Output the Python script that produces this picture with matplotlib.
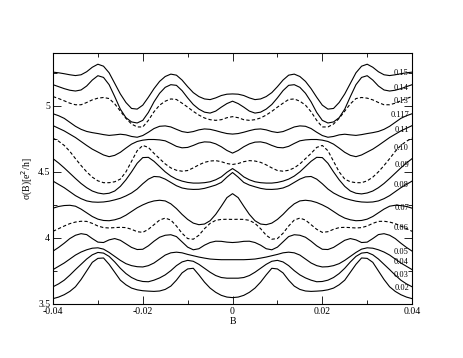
import matplotlib
matplotlib.use("Agg")
import numpy as np
import matplotlib.pyplot as plt
from matplotlib.ticker import MultipleLocator

plt.rcParams["font.family"] = ["Liberation Serif", "DejaVu Serif"]

# magnetic field samples, -0.04 .. 0.04 every 0.00125
b = np.linspace(-0.04, 0.04, 65)

# sigma(B), left half then right half
s_015 = [5.255, 5.25, 5.243, 5.235, 5.229, 5.235, 5.258, 5.292, 5.315, 5.30, 5.25, 5.17, 5.09, 5.025, 4.98, 4.975, 5.005,
         5.065, 5.13, 5.185, 5.222, 5.24, 5.232, 5.195, 5.145, 5.10, 5.07, 5.052, 5.047, 5.06, 5.078, 5.088, 5.09,
         5.088, 5.078, 5.06, 5.047, 5.052, 5.07, 5.10, 5.145, 5.195, 5.232, 5.24, 5.222, 5.185, 5.13, 5.065, 5.005,
         4.975, 4.98, 5.025, 5.09, 5.17, 5.25, 5.30, 5.315, 5.292, 5.258, 5.235, 5.229, 5.235, 5.243, 5.25, 5.255]
s_014 = [5.16, 5.145, 5.13, 5.118, 5.112, 5.12, 5.15, 5.195, 5.228, 5.215, 5.16, 5.07, 4.975, 4.91, 4.878, 4.87, 4.89,
         4.95, 5.03, 5.095, 5.14, 5.16, 5.155, 5.115, 5.06, 5.01, 4.975, 4.952, 4.945, 4.96, 4.99, 5.017, 5.035,
         5.017, 4.99, 4.96, 4.945, 4.952, 4.975, 5.01, 5.06, 5.115, 5.155, 5.16, 5.14, 5.095, 5.03, 4.95, 4.89,
         4.87, 4.878, 4.91, 4.975, 5.07, 5.16, 5.215, 5.228, 5.195, 5.15, 5.12, 5.112, 5.118, 5.13, 5.145, 5.16]
s_013 = [5.07, 5.055, 5.038, 5.02, 5.008, 5.008, 5.025, 5.045, 5.058, 5.063, 5.055, 5.015, 4.96, 4.905, 4.862, 4.84, 4.84,
         4.89, 4.955, 5.005, 5.035, 5.052, 5.048, 5.02, 4.99, 4.958, 4.93, 4.908, 4.895, 4.89, 4.895, 4.91, 4.918,
         4.91, 4.895, 4.89, 4.895, 4.908, 4.93, 4.958, 4.99, 5.02, 5.048, 5.052, 5.035, 5.005, 4.955, 4.89, 4.84,
         4.84, 4.862, 4.905, 4.96, 5.015, 5.055, 5.063, 5.058, 5.045, 5.025, 5.008, 5.008, 5.02, 5.038, 5.055, 5.07]
s_0117 = [4.94, 4.925, 4.905, 4.875, 4.845, 4.822, 4.806, 4.797, 4.79, 4.782, 4.776, 4.78, 4.785, 4.78, 4.768, 4.762, 4.775,
          4.80, 4.828, 4.845, 4.848, 4.84, 4.822, 4.805, 4.798, 4.805, 4.818, 4.825, 4.822, 4.812, 4.80, 4.79, 4.786,
          4.79, 4.80, 4.812, 4.822, 4.825, 4.818, 4.805, 4.798, 4.805, 4.822, 4.84, 4.848, 4.845, 4.828, 4.80, 4.775,
          4.762, 4.768, 4.78, 4.785, 4.78, 4.776, 4.782, 4.79, 4.797, 4.806, 4.822, 4.845, 4.875, 4.905, 4.925, 4.94]
s_011 = [4.85, 4.83, 4.81, 4.785, 4.76, 4.73, 4.70, 4.672, 4.65, 4.628, 4.615, 4.625, 4.648, 4.68, 4.71, 4.73, 4.74,
         4.745, 4.745, 4.742, 4.735, 4.715, 4.693, 4.682, 4.685, 4.70, 4.718, 4.727, 4.725, 4.712, 4.69, 4.662, 4.642,
         4.662, 4.69, 4.712, 4.725, 4.727, 4.718, 4.70, 4.685, 4.682, 4.693, 4.715, 4.735, 4.742, 4.745, 4.745, 4.74,
         4.73, 4.71, 4.68, 4.648, 4.625, 4.615, 4.628, 4.65, 4.672, 4.70, 4.73, 4.76, 4.785, 4.81, 4.83, 4.85]
s_010 = [4.755, 4.732, 4.70, 4.655, 4.60, 4.548, 4.50, 4.46, 4.432, 4.418, 4.418, 4.425, 4.445, 4.50, 4.58, 4.66, 4.70,
         4.685, 4.64, 4.60, 4.56, 4.53, 4.512, 4.505, 4.51, 4.53, 4.553, 4.572, 4.582, 4.585, 4.577, 4.563, 4.556,
         4.563, 4.577, 4.585, 4.582, 4.572, 4.553, 4.53, 4.51, 4.505, 4.512, 4.53, 4.56, 4.60, 4.64, 4.685, 4.70,
         4.66, 4.58, 4.50, 4.445, 4.425, 4.418, 4.418, 4.432, 4.46, 4.50, 4.548, 4.60, 4.655, 4.70, 4.732, 4.755]
s_009 = [4.60, 4.567, 4.53, 4.49, 4.45, 4.412, 4.38, 4.355, 4.34, 4.333, 4.338, 4.355, 4.39, 4.44, 4.50, 4.565, 4.608,
         4.61, 4.58, 4.54, 4.50, 4.468, 4.445, 4.43, 4.42, 4.415, 4.415, 4.418, 4.425, 4.44, 4.462, 4.497, 4.525,
         4.497, 4.462, 4.44, 4.425, 4.418, 4.415, 4.415, 4.42, 4.43, 4.445, 4.468, 4.50, 4.54, 4.58, 4.61, 4.608,
         4.565, 4.50, 4.44, 4.39, 4.355, 4.338, 4.333, 4.34, 4.355, 4.38, 4.412, 4.45, 4.49, 4.53, 4.567, 4.60]
s_008 = [4.43, 4.405, 4.38, 4.35, 4.32, 4.297, 4.28, 4.272, 4.27, 4.272, 4.278, 4.288, 4.30, 4.318, 4.34, 4.37, 4.41,
         4.445, 4.465, 4.462, 4.445, 4.42, 4.395, 4.378, 4.37, 4.367, 4.368, 4.375, 4.387, 4.40, 4.42, 4.46, 4.495,
         4.46, 4.42, 4.40, 4.387, 4.375, 4.368, 4.367, 4.37, 4.378, 4.395, 4.42, 4.445, 4.462, 4.465, 4.445, 4.41,
         4.37, 4.34, 4.318, 4.30, 4.288, 4.278, 4.272, 4.27, 4.272, 4.28, 4.297, 4.32, 4.35, 4.38, 4.405, 4.43]
s_007 = [4.225, 4.238, 4.245, 4.247, 4.24, 4.218, 4.19, 4.162, 4.142, 4.132, 4.13, 4.137, 4.15, 4.172, 4.20, 4.228, 4.25,
         4.268, 4.28, 4.285, 4.28, 4.258, 4.222, 4.178, 4.14, 4.112, 4.10, 4.105, 4.13, 4.178, 4.24, 4.305, 4.335,
         4.305, 4.24, 4.178, 4.13, 4.105, 4.10, 4.112, 4.14, 4.178, 4.222, 4.258, 4.28, 4.285, 4.28, 4.268, 4.25,
         4.228, 4.20, 4.172, 4.15, 4.137, 4.13, 4.132, 4.142, 4.162, 4.19, 4.218, 4.24, 4.247, 4.245, 4.238, 4.225]
s_006 = [4.05, 4.07, 4.09, 4.108, 4.12, 4.126, 4.125, 4.11, 4.09, 4.078, 4.075, 4.078, 4.08, 4.078, 4.065, 4.047, 4.042,
         4.065, 4.10, 4.135, 4.15, 4.135, 4.09, 4.035, 3.995, 3.99, 4.02, 4.07, 4.11, 4.133, 4.14, 4.141, 4.14,
         4.141, 4.14, 4.133, 4.11, 4.07, 4.02, 3.99, 3.995, 4.035, 4.09, 4.135, 4.15, 4.135, 4.10, 4.065, 4.042,
         4.047, 4.065, 4.078, 4.08, 4.078, 4.075, 4.078, 4.09, 4.11, 4.125, 4.126, 4.12, 4.108, 4.09, 4.07, 4.05]
s_005 = [3.90, 3.928, 3.96, 3.995, 4.02, 4.032, 4.025, 3.995, 3.968, 3.965, 3.985, 3.995, 3.982, 3.955, 3.928, 3.912, 3.914,
         3.94, 3.975, 4.005, 4.02, 4.024, 4.01, 3.97, 3.93, 3.91, 3.918, 3.945, 3.965, 3.975, 3.974, 3.968, 3.965,
         3.968, 3.974, 3.975, 3.965, 3.945, 3.918, 3.91, 3.93, 3.97, 4.01, 4.024, 4.02, 4.005, 3.975, 3.94, 3.914,
         3.912, 3.928, 3.955, 3.982, 3.995, 3.985, 3.965, 3.968, 3.995, 4.025, 4.032, 4.02, 3.995, 3.96, 3.928, 3.90]
s_004 = [3.76, 3.785, 3.81, 3.84, 3.87, 3.893, 3.91, 3.922, 3.925, 3.915, 3.89, 3.86, 3.83, 3.805, 3.79, 3.782, 3.78,
         3.79, 3.81, 3.84, 3.87, 3.887, 3.892, 3.887, 3.875, 3.865, 3.855, 3.847, 3.84, 3.837, 3.835, 3.835, 3.835,
         3.835, 3.835, 3.837, 3.84, 3.847, 3.855, 3.865, 3.875, 3.887, 3.892, 3.887, 3.87, 3.84, 3.81, 3.79, 3.78,
         3.782, 3.79, 3.805, 3.83, 3.86, 3.89, 3.915, 3.925, 3.922, 3.91, 3.893, 3.87, 3.84, 3.81, 3.785, 3.76]
s_003 = [3.63, 3.652, 3.68, 3.718, 3.76, 3.80, 3.84, 3.872, 3.89, 3.885, 3.86, 3.818, 3.77, 3.73, 3.70, 3.68, 3.67,
         3.668, 3.68, 3.697, 3.72, 3.752, 3.79, 3.818, 3.83, 3.823, 3.80, 3.77, 3.74, 3.715, 3.70, 3.695, 3.695,
         3.695, 3.70, 3.715, 3.74, 3.77, 3.80, 3.823, 3.83, 3.818, 3.79, 3.752, 3.72, 3.697, 3.68, 3.668, 3.67,
         3.68, 3.70, 3.73, 3.77, 3.818, 3.86, 3.885, 3.89, 3.872, 3.84, 3.80, 3.76, 3.718, 3.68, 3.652, 3.63]
s_002 = [3.54, 3.552, 3.57, 3.595, 3.63, 3.685, 3.75, 3.815, 3.845, 3.848, 3.80, 3.74, 3.68, 3.645, 3.62, 3.607, 3.60,
         3.597, 3.595, 3.598, 3.61, 3.635, 3.68, 3.735, 3.765, 3.77, 3.72, 3.665, 3.62, 3.588, 3.565, 3.552, 3.548,
         3.552, 3.565, 3.588, 3.62, 3.665, 3.72, 3.77, 3.765, 3.735, 3.68, 3.635, 3.61, 3.598, 3.595, 3.597, 3.60,
         3.607, 3.62, 3.645, 3.68, 3.74, 3.80, 3.848, 3.845, 3.815, 3.75, 3.685, 3.63, 3.595, 3.57, 3.552, 3.54]

curves = [s_015, s_014, s_013, s_0117, s_011, s_010, s_009, s_008,
          s_007, s_006, s_005, s_004, s_003, s_002]
names = ["0.15", "0.14", "0.13", "0.117", "0.11", "0.10", "0.09", "0.08",
         "0.07", "0.06", "0.05", "0.04", "0.03", "0.02"]
dashed = ["0.13", "0.10", "0.06"]
label_y = [5.247, 5.134, 5.033, 4.927, 4.818, 4.684, 4.553, 4.402,
           4.23, 4.073, 3.896, 3.821, 3.72, 3.619]

fig = plt.figure(figsize=(4.63, 3.58), dpi=100)
ax = fig.add_axes([0.1145, 0.151, 0.7755, 0.701])

for name, vals in zip(names, curves):
    if name in dashed:
        ax.plot(b, vals, color="black", lw=0.8, ls="--", dashes=(3, 2))
    else:
        ax.plot(b, vals, color="black", lw=0.8)

for name, y in zip(names, label_y):
    ax.text(0.0393, y, name, ha="right", va="center", fontsize=6)

ax.set_xlim(-0.04, 0.04)
ax.set_ylim(3.5, 5.4)
ax.xaxis.set_major_locator(MultipleLocator(0.02))
ax.xaxis.set_minor_locator(MultipleLocator(0.01))
ax.yaxis.set_major_locator(MultipleLocator(0.5))
ax.yaxis.set_minor_locator(MultipleLocator(0.25))
ax.xaxis.set_major_formatter(plt.FuncFormatter(lambda v, p: "0" if abs(v) < 1e-9 else f"{v:g}"))
ax.yaxis.set_major_formatter(plt.FuncFormatter(lambda v, p: f"{v:g}"))
ax.tick_params(which="both", direction="in", top=True, right=True, labelsize=7, pad=2, width=0.6)
ax.tick_params(which="major", length=6)
ax.tick_params(which="minor", length=3)
for sp in ax.spines.values():
    sp.set_linewidth(0.8)

ax.set_xlabel("B", fontsize=7, labelpad=1)
ax.set_ylabel("σ(B)[e$^2$/h]", fontsize=7, labelpad=2)

fig.savefig("out.png", dpi=100)
